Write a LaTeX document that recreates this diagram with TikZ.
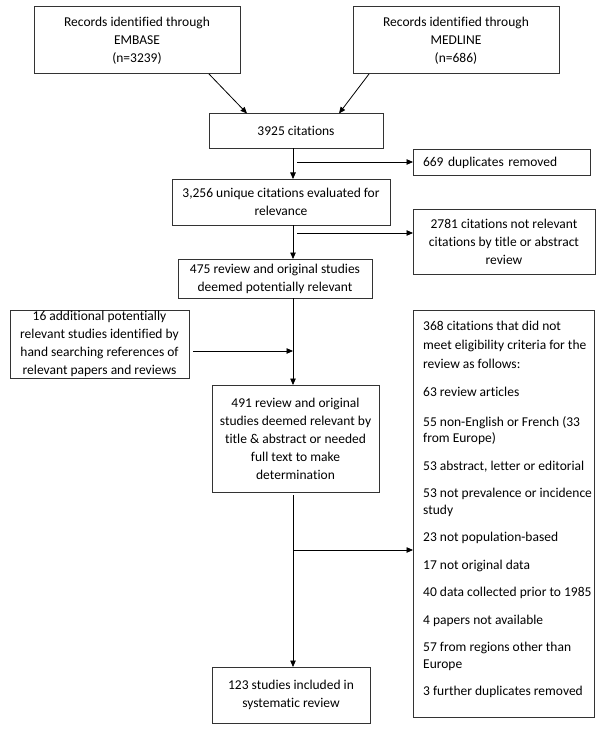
\documentclass[tikz,border=0pt]{standalone}
\usepackage{fontspec}
\setmainfont{Carlito}[Ligatures={NoCommon}]
\usetikzlibrary{arrows.meta}
\begin{document}
\begin{tikzpicture}[x=1pt,y=-1pt,
  box/.style={draw=black!80, line width=1pt, align=center, inner sep=0pt, outer sep=0pt, font=\fontsize{13.5}{18}\selectfont},
  listtxt/.style={align=left, inner sep=0pt, font=\fontsize{13.5}{16.3}\selectfont},
  arr/.style={line width=0.8pt, -{Triangle[length=6.5pt,width=5.5pt]}},
  ln/.style={line width=0.8pt}]
\useasboundingbox (0,0) rectangle (600,746);
% boxes
\node[box, minimum width=206pt, minimum height=67pt] (emb) at (137,40.5) {Records identified through\\EMBASE\\(n=3239)};
\node[box, minimum width=206pt, minimum height=67pt] (med) at (456,40.5) {Records identified through\\MEDLINE\\(n=686)};
\node[box, minimum width=174pt, minimum height=35pt] (c3925) at (296,131) {3925 citations};
\node[box, align=left, text width=157pt, inner xsep=10pt, minimum height=26pt] (dup) at (501.5,163) {669 duplicates removed};
\node[box, minimum width=218pt, minimum height=46pt] (u3256) at (281,202) {3,256 unique citations evaluated for\\relevance};
\node[box, minimum width=182pt, minimum height=65pt] (nr2781) at (504,241.5) {2781 citations not relevant\\citations by title or abstract\\review};
\node[box, minimum width=194pt, minimum height=39pt] (s475) at (275,278.5) {475 review and original studies\\deemed potentially relevant};
\node[box, minimum width=179pt, minimum height=68pt] (add16) at (99.5,344) {16 additional potentially\\relevant studies identified by\\hand searching references of\\relevant papers and reviews};
\node[box, minimum width=167pt, minimum height=107pt] (s491) at (295.5,438.5) {491 review and original\\studies deemed relevant by\\title \& abstract or needed\\full text to make\\determination};
\node[box, minimum width=158pt, minimum height=56pt] (inc123) at (291,695) {123 studies included in\\systematic review};
\node[box, minimum width=181pt, minimum height=407pt] (excl) at (503.5,513.5) {};
\node[listtxt, anchor=north west] (excltxt) at ([xshift=10pt,yshift=-11pt]excl.north west) {368 citations that did not\\[2.7pt]meet eligibility criteria for the\\[2.7pt]review as follows:\\[12pt]63 review articles\\[13.5pt]55 non-English or French (33\\from Europe)\\[11.2pt]53 abstract, letter or editorial\\[11.2pt]53 not prevalence or incidence\\study\\[11.2pt]23 not population-based\\[11.2pt]17 not original data\\[11.2pt]40 data collected prior to 1985\\[11.2pt]4 papers not available\\[11.2pt]57 from regions other than\\Europe\\[11.2pt]3 further duplicates removed};
% connectors
\coordinate (tx) at (293,0);
\draw[arr] ([xshift=175pt]emb.south west) -- ([xshift=38pt]c3925.north west);
\draw[arr] ([xshift=16pt]med.south west) -- ([xshift=-44pt]c3925.north east);
\draw[arr] (c3925.south -| tx) -- (u3256.north -| tx);
\draw[arr] (u3256.south -| tx) -- (s475.north -| tx);
\draw[arr] (s475.south -| tx) -- (s491.north -| tx);
\draw[arr] ([yshift=-3pt]s491.south -| tx) -- (inc123.north -| tx);
\coordinate (b1) at (297,162);
\draw[arr] (b1) -- (b1 -| dup.west);
\coordinate (b2) at (297,233);
\draw[arr] (b2) -- (b2 -| nr2781.west);
\coordinate (b3) at (293,550);
\draw[arr] (b3) -- (b3 -| excl.west);
\coordinate (j1) at (293,351);
\path (add16.east |- j1) coordinate (a1s);
\draw[arr] ([xshift=4pt]a1s) -- (j1);
\end{tikzpicture}
\end{document}
